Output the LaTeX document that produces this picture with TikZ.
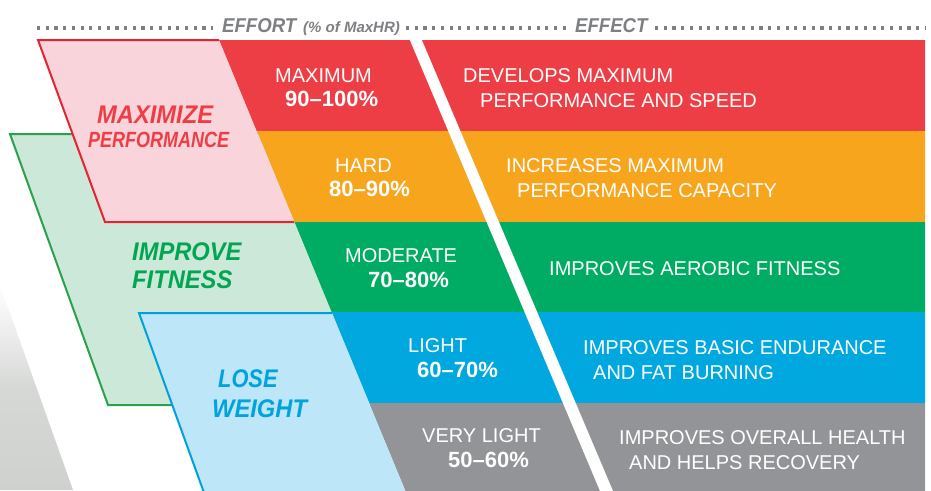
\documentclass[tikz,border=0pt]{standalone}
\usepackage{fontspec}
\setmainfont{Liberation Sans}
\definecolor{cRed}{HTML}{EE3E45}
\definecolor{cOrange}{HTML}{F8A51E}
\definecolor{cGreen}{HTML}{00AC63}
\definecolor{cBlue}{HTML}{00A8DF}
\definecolor{cGray}{HTML}{929497}
\definecolor{lPink}{HTML}{F9D4DA}
\definecolor{sRed}{HTML}{E42431}
\definecolor{lGreen}{HTML}{CCE8D9}
\definecolor{sGreen}{HTML}{2AA24B}
\definecolor{lBlue}{HTML}{BEE6F9}
\definecolor{sBlue}{HTML}{00A0DD}
\definecolor{tRed}{HTML}{EE3E45}
\definecolor{tGreen}{HTML}{00A651}
\definecolor{tBlue}{HTML}{00A3DC}
\definecolor{hdr}{HTML}{7D7F82}
\definecolor{photo}{HTML}{CFD1CF}
\begin{document}
\begin{tikzpicture}[x=1pt,y=-1pt,
  lab/.style={font=\fontsize{20}{24}\selectfont, text=white, inner sep=0pt, anchor=base west},
  num/.style={font=\fontsize{22}{26}\selectfont\bfseries, text=white, inner sep=0pt, anchor=base west},
  ttl/.style={font=\fontsize{25.5}{30}\selectfont\bfseries\itshape, inner sep=0pt, anchor=base west, xscale=0.93},
  hd/.style={text=hdr, inner sep=0pt, anchor=base west},
  dots/.style={draw=hdr, line width=3.2pt, dash pattern=on 3.2pt off 5.5pt},
  border/.style={line width=2pt, line join=miter}]
\useasboundingbox (0,0) rectangle (931,490);
% faded photo at lower left
\shade[top color=white, bottom color=photo, middle color=photo!85!white] (0,285) -- (73,490) -- (0,490) -- cycle;
% effort / effect bands
\fill[cRed] (219,40) -- (925,40) -- (925,131.5) -- (256.6,131.5) -- cycle;
\fill[cOrange] (256.6,131) -- (925,131) -- (925,222.5) -- (294.2,222.5) -- cycle;
\fill[cGreen] (294.2,222) -- (925,222) -- (925,312.5) -- (331.4,312.5) -- cycle;
\fill[cBlue] (331.4,312) -- (925,312) -- (925,403.5) -- (369,403.5) -- cycle;
\fill[cGray] (369,403) -- (925,403) -- (925,491) -- (405.4,491) -- cycle;
% white diagonal stripe
\fill[white] (409,38) -- (421,38) -- (613,491) -- (600,491) -- cycle;
% improve fitness
\fill[lGreen] (10,134) -- (258,134) -- (370,405) -- (108,405) -- cycle;
\draw[border, sGreen] (258,134) -- (10,134) -- (108,405) -- (200,405);
% maximize performance
\fill[lPink] (38,40) -- (219,40) -- (294.2,222) -- (105,222) -- cycle;
\draw[border, sRed] (219,40) -- (38,40) -- (105,222) -- (294.2,222);
% lose weight
\fill[lBlue] (139,313) -- (331.8,313) -- (405.4,491) -- (203,491) -- cycle;
\draw[border, sBlue] (331.8,313) -- (139,313) -- (203.4,491);
% header
\draw[dots] (37,28) -- (213,28);
\draw[dots] (406,28) -- (569,28);
\draw[dots] (655,28) -- (926,28);
\node[hd, font=\fontsize{20}{24}\selectfont\bfseries\itshape, xscale=0.93] (effort) at (222,32) {EFFORT};
\node[hd, font=\fontsize{15}{18}\selectfont\bfseries\itshape] (maxhr) at (303,32) {(\% of MaxHR)};
\node[hd, font=\fontsize{20}{24}\selectfont\bfseries\itshape, xscale=0.93] (effect) at (575,32) {EFFECT};
% titles
\node[ttl, text=tRed] (mx1) at (97,123) {MAXIMIZE};
\node[ttl, text=tRed, font=\fontsize{22}{26}\selectfont\bfseries\itshape, xscale=0.88] (mx2) at (88,147) {PERFORMANCE};
\node[ttl, text=tGreen] (im1) at (132,260) {IMPROVE};
\node[ttl, text=tGreen] (im2) at (132,288) {FITNESS};
\node[ttl, text=tBlue, xscale=0.92] (lo1) at (218,387) {LOSE};
\node[ttl, text=tBlue] (lo2) at (212,417) {WEIGHT};
% effort labels
\node[lab] (e1a) at (275,82) {MAXIMUM};
\node[num] (e1b) at (285,106) {90–100\%};
\node[lab] (e2a) at (335,172) {HARD};
\node[num] (e2b) at (329,196) {80–90\%};
\node[lab] (e3a) at (345,262) {MODERATE};
\node[num] (e3b) at (368,287) {70–80\%};
\node[lab] (e4a) at (408,352) {LIGHT};
\node[num] (e4b) at (417,377) {60–70\%};
\node[lab] (e5a) at (422,442) {VERY LIGHT};
\node[num] (e5b) at (448,467) {50–60\%};
% effect labels
\node[lab] (f1a) at (463,82) {DEVELOPS MAXIMUM};
\node[lab] (f1b) at (480,107) {PERFORMANCE AND SPEED};
\node[lab] (f2a) at (506,172) {INCREASES MAXIMUM};
\node[lab] (f2b) at (517,197) {PERFORMANCE CAPACITY};
\node[lab] (f3a) at (549,275) {IMPROVES AEROBIC FITNESS};
\node[lab] (f4a) at (583,354) {IMPROVES BASIC ENDURANCE};
\node[lab] (f4b) at (593,379) {AND FAT BURNING};
\node[lab] (f5a) at (619,444) {IMPROVES OVERALL HEALTH};
\node[lab] (f5b) at (629,469) {AND HELPS RECOVERY};
\end{tikzpicture}
\end{document}
